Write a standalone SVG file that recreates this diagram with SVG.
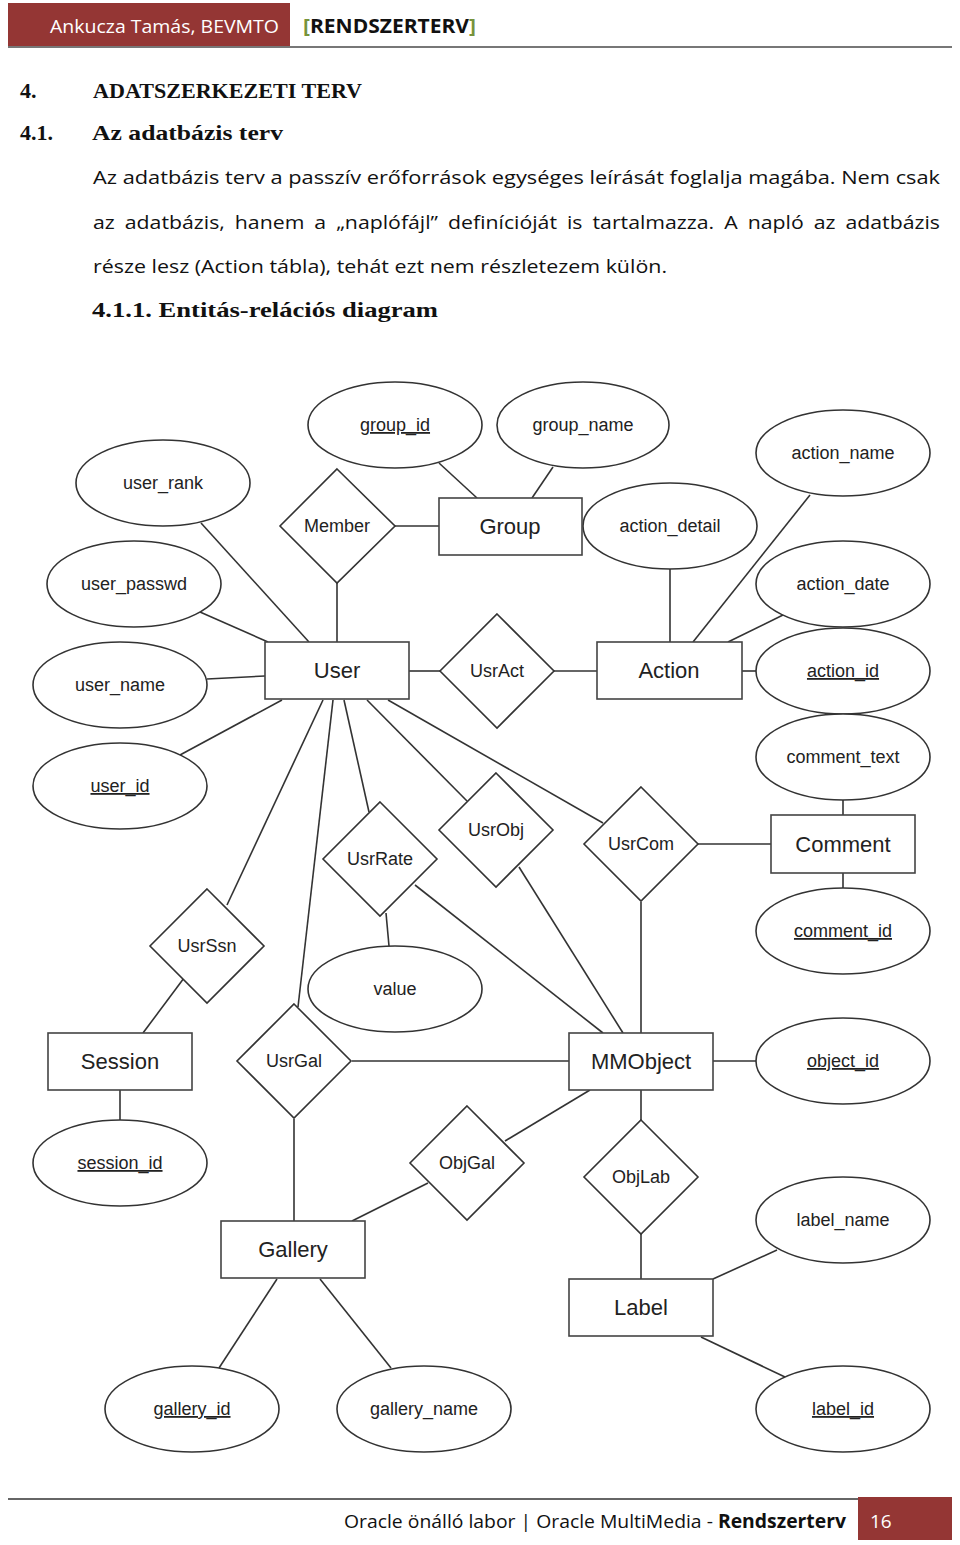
<svg xmlns="http://www.w3.org/2000/svg" width="960" height="1545" viewBox="0 0 960 1545">
<style>
.e{fill:#fff;stroke:#333;stroke-width:1.6}
.r{fill:#fff;stroke:#444;stroke-width:1.6}
.c line{stroke:#333;stroke-width:1.6}
.a{font-family:"Liberation Sans",Arial,sans-serif;font-size:18px;fill:#222;text-anchor:middle}
.k{text-decoration:underline}
.n{font-family:"Liberation Sans",Arial,sans-serif;font-size:22px;fill:#222;text-anchor:middle}
.h{font-family:"Liberation Serif",serif;font-weight:bold;font-size:22px;fill:#111}
.b{font-family:"Open Sans","Liberation Sans",sans-serif;font-size:19px;fill:#111}
</style>
<rect width="960" height="1545" fill="#fff"/>
<!-- header -->
<rect x="8" y="3" width="282" height="43" fill="#943634"/>
<line x1="290" y1="47" x2="952" y2="47" stroke="#777" stroke-width="2"/>
<line x1="8" y1="47" x2="290" y2="47" stroke="#777" stroke-width="2"/>
<text x="279" y="33" font-family="Open Sans,Liberation Sans,sans-serif" font-size="18" fill="#fff" text-anchor="end" textLength="229" lengthAdjust="spacingAndGlyphs">Ankucza Tamás, BEVMTO</text>
<text x="303" y="33" font-family="Open Sans,Liberation Sans,sans-serif" font-size="19" font-weight="bold" fill="#111" textLength="173" lengthAdjust="spacingAndGlyphs"><tspan fill="#77933C">[</tspan>RENDSZERTERV<tspan fill="#77933C">]</tspan></text>
<!-- headings and body -->
<text class="h" x="20" y="98">4.</text>
<text class="h" x="93" y="98" textLength="269" lengthAdjust="spacingAndGlyphs">ADATSZERKEZETI TERV</text>
<text class="h" x="20" y="140">4.1.</text>
<text class="h" x="92" y="140" textLength="191" lengthAdjust="spacingAndGlyphs">Az adatbázis terv</text>
<text class="b" x="93" y="184" textLength="847" lengthAdjust="spacingAndGlyphs">Az adatbázis terv a passzív erőforrások egységes leírását foglalja magába. Nem csak</text>
<text class="b" x="93" y="229" textLength="847" lengthAdjust="spacingAndGlyphs" word-spacing="4">az adatbázis, hanem a „naplófájl” definícióját is tartalmazza. A napló az adatbázis</text>
<text class="b" x="93" y="273" textLength="574" lengthAdjust="spacingAndGlyphs">része lesz (Action tábla), tehát ezt nem részletezem külön.</text>
<text class="h" x="92" y="317" textLength="346" lengthAdjust="spacingAndGlyphs">4.1.1.  Entitás-relációs diagram</text>
<!-- connectors -->
<g id="connectors" class="c">
<line x1="439" y1="463" x2="477" y2="498"/>
<line x1="553" y1="467" x2="532" y2="498"/>
<line x1="395" y1="526" x2="439" y2="526"/>
<line x1="337" y1="582" x2="337" y2="642"/>
<line x1="201" y1="523" x2="309" y2="642"/>
<line x1="200" y1="612" x2="268" y2="642"/>
<line x1="207" y1="679" x2="265" y2="676"/>
<line x1="180" y1="755" x2="282" y2="700"/>
<line x1="409" y1="671" x2="440" y2="671"/>
<line x1="554" y1="671" x2="597" y2="671"/>
<line x1="670" y1="569" x2="670" y2="642"/>
<line x1="810" y1="495" x2="693" y2="642"/>
<line x1="783" y1="615" x2="728" y2="642"/>
<line x1="742" y1="671" x2="757" y2="671"/>
<line x1="843" y1="800" x2="843" y2="815"/>
<line x1="843" y1="873" x2="843" y2="888"/>
<line x1="698" y1="844" x2="771" y2="844"/>
<line x1="388" y1="700" x2="603" y2="823"/>
<line x1="367" y1="700" x2="467" y2="801"/>
<line x1="344" y1="700" x2="369" y2="812"/>
<line x1="323" y1="700" x2="227" y2="905"/>
<line x1="333" y1="700" x2="298" y2="1007"/>
<line x1="386" y1="913" x2="389" y2="946"/>
<line x1="415" y1="885" x2="603" y2="1033"/>
<line x1="519" y1="867" x2="623" y2="1033"/>
<line x1="641" y1="902" x2="641" y2="1033"/>
<line x1="713" y1="1061" x2="757" y2="1061"/>
<line x1="352" y1="1061" x2="569" y2="1061"/>
<line x1="590" y1="1090" x2="505" y2="1141"/>
<line x1="641" y1="1090" x2="641" y2="1120"/>
<line x1="641" y1="1234" x2="641" y2="1279"/>
<line x1="143" y1="1033" x2="184" y2="978"/>
<line x1="120" y1="1090" x2="120" y2="1120"/>
<line x1="294" y1="1119" x2="294" y2="1221"/>
<line x1="428" y1="1183" x2="352" y2="1221"/>
<line x1="277" y1="1279" x2="219" y2="1368"/>
<line x1="320" y1="1279" x2="391" y2="1368"/>
<line x1="777" y1="1250" x2="713" y2="1279"/>
<line x1="701" y1="1337" x2="785" y2="1377"/>
</g>
<!-- attributes -->
<g id="group_id"><ellipse class="e" cx="395" cy="425" rx="87" ry="43"/><text class="a k" x="395" y="431">group_id</text></g>
<g id="group_name"><ellipse class="e" cx="583" cy="425" rx="86" ry="43"/><text class="a" x="583" y="431">group_name</text></g>
<g id="user_rank"><ellipse class="e" cx="163" cy="483" rx="87" ry="43"/><text class="a" x="163" y="489">user_rank</text></g>
<g id="action_name"><ellipse class="e" cx="843" cy="453" rx="87" ry="43"/><text class="a" x="843" y="459">action_name</text></g>
<g id="action_detail"><ellipse class="e" cx="670" cy="526" rx="87" ry="43"/><text class="a" x="670" y="532">action_detail</text></g>
<g id="user_passwd"><ellipse class="e" cx="134" cy="584" rx="87" ry="43"/><text class="a" x="134" y="590">user_passwd</text></g>
<g id="action_date"><ellipse class="e" cx="843" cy="584" rx="87" ry="43"/><text class="a" x="843" y="590">action_date</text></g>
<g id="user_name"><ellipse class="e" cx="120" cy="685" rx="87" ry="43"/><text class="a" x="120" y="691">user_name</text></g>
<g id="action_id"><ellipse class="e" cx="843" cy="671" rx="87" ry="43"/><text class="a k" x="843" y="677">action_id</text></g>
<g id="comment_text"><ellipse class="e" cx="843" cy="757" rx="87" ry="43"/><text class="a" x="843" y="763">comment_text</text></g>
<g id="user_id"><ellipse class="e" cx="120" cy="786" rx="87" ry="43"/><text class="a k" x="120" y="792">user_id</text></g>
<g id="comment_id"><ellipse class="e" cx="843" cy="931" rx="87" ry="43"/><text class="a k" x="843" y="937">comment_id</text></g>
<g id="value"><ellipse class="e" cx="395" cy="989" rx="87" ry="43"/><text class="a" x="395" y="995">value</text></g>
<g id="object_id"><ellipse class="e" cx="843" cy="1061" rx="87" ry="43"/><text class="a k" x="843" y="1067">object_id</text></g>
<g id="session_id"><ellipse class="e" cx="120" cy="1163" rx="87" ry="43"/><text class="a k" x="120" y="1169">session_id</text></g>
<g id="label_name"><ellipse class="e" cx="843" cy="1220" rx="87" ry="43"/><text class="a" x="843" y="1226">label_name</text></g>
<g id="gallery_id"><ellipse class="e" cx="192" cy="1409" rx="87" ry="43"/><text class="a k" x="192" y="1415">gallery_id</text></g>
<g id="gallery_name"><ellipse class="e" cx="424" cy="1409" rx="87" ry="43"/><text class="a" x="424" y="1415">gallery_name</text></g>
<g id="label_id"><ellipse class="e" cx="843" cy="1409" rx="87" ry="43"/><text class="a k" x="843" y="1415">label_id</text></g>
<!-- entities -->
<g id="Group"><rect class="r" x="439" y="498" width="143" height="57"/><text class="n" x="510" y="534">Group</text></g>
<g id="User"><rect class="r" x="265" y="642" width="144" height="57"/><text class="n" x="337" y="678">User</text></g>
<g id="Action"><rect class="r" x="597" y="642" width="145" height="57"/><text class="n" x="669" y="678">Action</text></g>
<g id="Comment"><rect class="r" x="771" y="815" width="144" height="58"/><text class="n" x="843" y="852">Comment</text></g>
<g id="Session"><rect class="r" x="48" y="1033" width="144" height="57"/><text class="n" x="120" y="1069">Session</text></g>
<g id="MMObject"><rect class="r" x="569" y="1033" width="144" height="57"/><text class="n" x="641" y="1069">MMObject</text></g>
<g id="Gallery"><rect class="r" x="221" y="1221" width="144" height="57"/><text class="n" x="293" y="1257">Gallery</text></g>
<g id="Label"><rect class="r" x="569" y="1279" width="144" height="57"/><text class="n" x="641" y="1315">Label</text></g>
<!-- relationships -->
<g id="Member"><polygon class="e" points="337,469 395,526 337,583 280,526"/><text class="a" x="337" y="532">Member</text></g>
<g id="UsrAct"><polygon class="e" points="497,614 554,671 497,728 440,671"/><text class="a" x="497" y="677">UsrAct</text></g>
<g id="UsrRate"><polygon class="e" points="380,802 437,859 380,916 323,859"/><text class="a" x="380" y="865">UsrRate</text></g>
<g id="UsrObj"><polygon class="e" points="496,773 553,830 496,887 439,830"/><text class="a" x="496" y="836">UsrObj</text></g>
<g id="UsrCom"><polygon class="e" points="641,787 698,844 641,901 584,844"/><text class="a" x="641" y="850">UsrCom</text></g>
<g id="UsrSsn"><polygon class="e" points="207,889 264,946 207,1003 150,946"/><text class="a" x="207" y="952">UsrSsn</text></g>
<g id="UsrGal"><polygon class="e" points="294,1004 351,1061 294,1118 237,1061"/><text class="a" x="294" y="1067">UsrGal</text></g>
<g id="ObjGal"><polygon class="e" points="467,1106 524,1163 467,1220 410,1163"/><text class="a" x="467" y="1169">ObjGal</text></g>
<g id="ObjLab"><polygon class="e" points="641,1120 698,1177 641,1234 584,1177"/><text class="a" x="641" y="1183">ObjLab</text></g>
<!-- footer -->
<line x1="8" y1="1499" x2="858" y2="1499" stroke="#333" stroke-width="1.5"/>
<rect x="858" y="1497" width="94" height="43" fill="#943634"/>
<text x="846" y="1528" font-family="Open Sans,Liberation Sans,sans-serif" font-size="19" fill="#111" text-anchor="end" textLength="502" lengthAdjust="spacingAndGlyphs">Oracle önálló labor | Oracle MultiMedia - <tspan font-weight="bold">Rendszerterv</tspan></text>
<text x="870" y="1528" font-family="Open Sans,Liberation Sans,sans-serif" font-size="19" fill="#fff">16</text>
</svg>
